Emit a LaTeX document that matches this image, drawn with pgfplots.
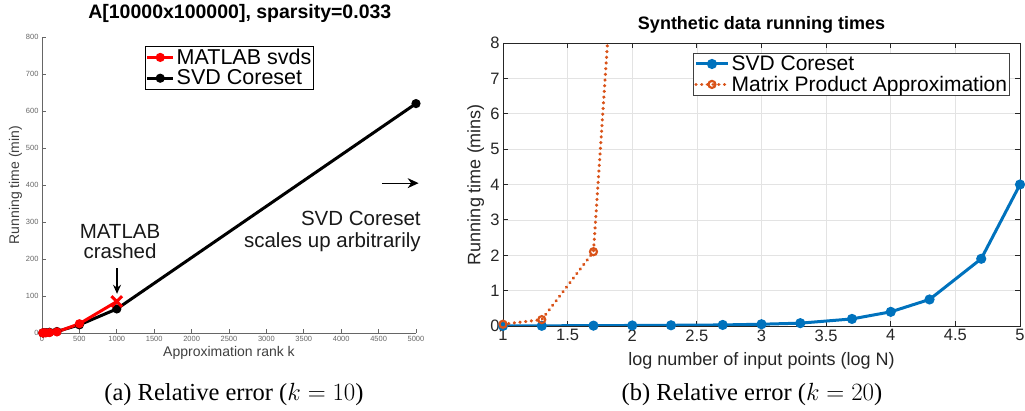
\documentclass[border=0pt]{standalone}
\usepackage{pgfplots}
\pgfplotsset{compat=1.18}
\usetikzlibrary{arrows.meta}
\usepackage{fontspec}
\setmainfont{Liberation Sans}
\newfontfamily\serif{Liberation Serif}
\definecolor{mblue}{rgb}{0,0.447,0.741}
\definecolor{morange}{rgb}{0.85,0.325,0.098}
\definecolor{axgray}{gray}{0.4}
\newcommand{\fs}[1]{\fontsize{#1}{#1}\selectfont}

\begin{document}
\begin{tikzpicture}
\useasboundingbox (0,0) rectangle (1025pt,411pt);

% (a) svds vs coreset
\begin{axis}[
  at={(42pt,78pt)}, anchor=south west,
  scale only axis, width=374pt, height=296pt,
  xmin=0, xmax=5000, ymin=0, ymax=800,
  axis lines=left, axis line style={-, draw=axgray, line width=0.9pt},
  tick align=inside, major tick length=4pt,
  tick style={draw=axgray, line width=0.9pt},
  xtick={0,500,...,5000}, ytick={0,100,...,800},
  /pgf/number format/assume math mode=true,
  /pgf/number format/set thousands separator={},
  tick label style={font=\fs{7.5}, text=axgray},
  title={A[10000x100000], sparsity=0.033},
  title style={font=\bfseries\fs{19.5}, at={(axis description cs:0.529,1)}, anchor=base, yshift=12pt},
  xlabel={Approximation rank k},
  xlabel style={font=\fs{14}, text=black!75, at={(axis description cs:0.5,-0.078)}, anchor=base},
  ylabel={Running time (min)},
  ylabel style={font=\fs{14}, text=black!75, at={(axis description cs:-0.071,0.5)}, anchor=center},
  legend style={at={(axis description cs:0.275,1)}, anchor=north west, yshift=-9pt,
    font=\fs{21.5}, draw=black, line width=0.8pt, inner sep=0.5pt},
  legend cell align=left,
  reverse legend,
  legend image code/.code={\draw[mark repeat=2,mark phase=2] plot coordinates {(0pt,0pt) (13pt,0pt) (26pt,0pt)};},
  clip=false,
]
\addplot[black, line width=3pt, mark=*, mark size=3pt] coordinates {
  (10,0.3) (20,0.5) (50,1) (100,2) (200,4) (500,22) (1000,65) (5000,620)
};
\addplot[red, line width=3pt, mark=*, mark size=3pt] coordinates {
  (10,0.2) (20,0.3) (50,0.5) (100,1) (200,3) (500,25)
};
\addplot[red, line width=3pt, mark=x, mark size=7.5pt, mark options={line width=3pt}, mark indices={2}, forget plot] coordinates {
  (500,25) (1000,85)
};
\legend{SVD Coreset, MATLAB svds}
\node[font=\fs{20.5}, align=center, text=black!90] at (axis cs:1043,246) {MATLAB\\[-0.5pt]crashed};
\draw[-{Stealth[length=9pt,width=8pt]}, line width=1.2pt] (axis cs:1003,175) -- (axis cs:1003,106);
\node[font=\fs{20.5}, align=right, anchor=east, text=black!90] at (axis cs:5110,274) {SVD Coreset\\[2pt]scales up arbitrarily};
\draw[-{Stealth[length=11pt,width=10pt]}, line width=1.2pt] (axis cs:4545,405) -- (axis cs:5035,405);
\end{axis}

% (b) synthetic data
\begin{axis}[
  at={(503pt,85pt)}, anchor=south west,
  scale only axis, width=517pt, height=283pt,
  xmin=1, xmax=5, ymin=0, ymax=8,
  xtick={1,1.5,...,5}, ytick={0,1,...,8},
  grid=major, grid style={gray!22, line width=0.6pt},
  axis line style={draw=black!85, line width=0.9pt},
  tick align=inside, major tick length=5pt,
  tick style={draw=black!85, line width=0.8pt},
  /pgf/number format/assume math mode=true,
  tick label style={font=\fs{16.5}, text=black!85},
  title={Synthetic data running times},
  title style={font=\bfseries\fs{18}, at={(axis description cs:0.5,1)}, anchor=base, yshift=7pt},
  xlabel={log number of input points (log N)},
  xlabel style={font=\fs{18}, text=black!85, at={(axis description cs:0.5,-0.141)}, anchor=base},
  ylabel={Running time (mins)},
  ylabel style={font=\fs{18}, text=black!85, at={(axis description cs:-0.053,0.5)}, anchor=center},
  legend style={at={(axis description cs:1,1)}, anchor=north east, xshift=-10pt, yshift=-10pt,
    font=\fs{21}, draw=black!75, line width=0.8pt, inner sep=0.5pt},
  legend cell align=left,
  legend image code/.code={\draw[mark repeat=2,mark phase=2] plot coordinates {(0pt,0pt) (16pt,0pt) (32pt,0pt)};},
]
\addplot[mblue, line width=3pt, mark=*, mark size=3.5pt] coordinates {
  (1,0.003) (1.3,0.005) (1.7,0.01) (2,0.015) (2.3,0.02) (2.7,0.03) (3,0.05)
  (3.3,0.08) (3.7,0.2) (4,0.4) (4.3,0.75) (4.7,1.9) (5,4.0)
};
\addplot[morange, line width=3.4pt, line cap=round, dash pattern=on 0.1pt off 5.6pt, mark=o, mark size=3.5pt,
  mark options={solid, line width=2.2pt}] coordinates {
  (1,0.05) (1.3,0.18) (1.7,2.1) (2,18.4)
};
\legend{SVD Coreset, Matrix Product Approximation}
\end{axis}

\node[anchor=base, font=\serif\fs{24.5}] at (234pt,10pt) {(a) Relative error ($k=10$)};
\node[anchor=base, font=\serif\fs{24.5}] at (752pt,10pt) {(b) Relative error ($k=20$)};
\end{tikzpicture}
\end{document}
